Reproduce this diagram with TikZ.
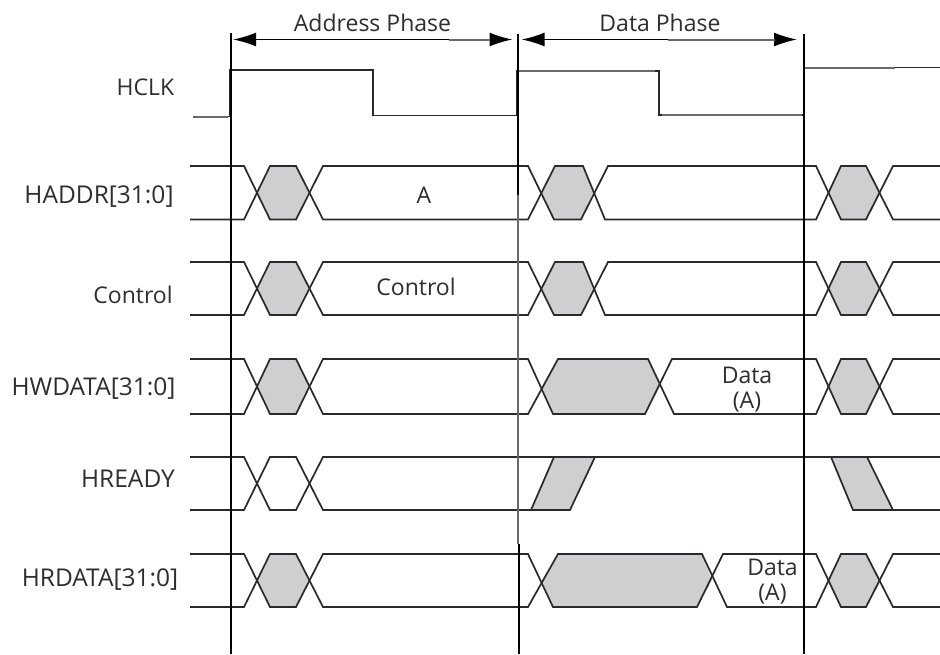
\documentclass[tikz,border=0pt]{standalone}
\usepackage{fontspec}
\setmainfont{Open Sans}
\usetikzlibrary{arrows.meta}
\definecolor{wire}{HTML}{2A2A2A}
\definecolor{hatch}{HTML}{CDCFD1}
\definecolor{ink}{HTML}{2E2E2E}
\definecolor{fadeline}{HTML}{6A6A6A}
\tikzset{
  wave/.style={draw=wire,line width=1.7pt,line join=miter},
  faded/.style={draw=fadeline,line width=2pt},
  shade/.style={fill=hatch,draw=none},
  phase/.style={draw=black,line width=1.8pt},
  span/.style={draw=black,line width=1.8pt,{Latex[length=23pt,width=14pt]}-{Latex[length=23pt,width=14pt]}},
  lab/.style={font=\fontsize{23pt}{25pt}\selectfont,text=ink,inner sep=0pt,align=center},
  basel/.style={lab,anchor=base},
  longlab/.style={basel,font=\fontsize{24.5pt}{25pt}\selectfont},
}
% T B | middle: tl bl tr br at ab cr
\newcommand{\busrow}[9]{%
  \path[shade] (257,{(#1+#2)/2})--(270,#1)--(296,#1)--(309,{(#1+#2)/2})--(296,#2)--(270,#2)--cycle;
  \path[shade] (829,{(#1+#2)/2})--(841,#1)--(866,#1)--(881,{(#1+#2)/2})--(866,#2)--(841,#2)--cycle;
  \path[shade] (542,{(#1+#2)/2})--(#3,#1)--(#5,#1)--(#9,{(#1+#2)/2})--(#6,#2)--(#4,#2)--cycle;
  \draw[wave] (190,#1)--(244,#1)--(270,#2)--(296,#2)--(323,#1)--(528,#1)--(#4,#2)--(#6,#2)--(#7,#1)--(816,#1)--(841,#2)--(866,#2)--(893,#1)--(940,#1);
  \draw[wave] (190,#2)--(244,#2)--(270,#1)--(296,#1)--(323,#2)--(528,#2)--(#3,#1)--(#5,#1)--(#8,#2)--(816,#2)--(841,#1)--(866,#1)--(893,#2)--(940,#2);
}
\begin{document}
\begin{tikzpicture}[x=1pt,y=-1pt]
\useasboundingbox (0,0) rectangle (940,654);
\fill[white] (0,0) rectangle (940,654);

\busrow{166}{219.5}{555}{554}{583}{581}{608}{605}{594}
\busrow{262}{315}{555}{554}{583}{581}{608}{605}{594}
\busrow{359}{414}{558}{553}{648}{645}{672}{674}{660}
\busrow{554}{607}{558}{553}{702}{697}{723}{727}{712}

% HREADY
\path[shade] (531,510)--(554,457)--(595,457)--(570,510)--cycle;
\path[shade] (831,457)--(867,457)--(893,510)--(853,510)--cycle;
\draw[wave] (190,457)--(244,457)--(270,510)--(296,510)--(323,457)--(940,457);
\draw[wave] (190,510)--(244,510)--(270,457)--(296,457)--(323,510)--(570,510)--(595,457);
\draw[wave] (531,510)--(554,457);
\draw[wave] (831,457)--(853,510)--(940,510);
\draw[wave] (867,457)--(893,510);

% HCLK
\draw[wave] (193,116.5)--(230,116.5)--(230,70)--(373,70)--(373,115.5)--(517,115.5)--(517,71)--(659,71)--(659,115)--(803,115);
\draw[faded] (193,116.5)--(228,116.5);
\draw[faded] (519,71)--(655,71);
\draw[faded] (662,115)--(802,115);
\draw[faded] (805,67.5)--(895,67.5);
\draw[wave] (895,67.5)--(940,67.5);

% phase boundaries
\coordinate (p1t) at (231,33); \coordinate (p1b) at (231,654);
\coordinate (p2t) at (517.7,34); \coordinate (p2u) at (517.7,195);
\coordinate (p2v) at (518.3,195); \coordinate (p2m) at (518.3,544);
\coordinate (p2n) at (519.3,544); \coordinate (p2b) at (519.3,654);
\coordinate (p3t) at (804,34); \coordinate (p3b) at (804,654);
\draw[phase] (p1t)--(p1b);
\draw[phase] (p2t)--(p2u);
\draw[faded] (p2v)--(p2m);
\draw[phase] (p2n)--(p2b);
\draw[phase] (p3t)--(p3b);

% spans
\coordinate (a1) at (233,39.5); \coordinate (a2) at (512.5,39.5);
\coordinate (b1) at (521.5,39.5); \coordinate (b2) at (797,39.5);
\draw[span] (a1)--(a2);
\draw[span] (b1)--(b2);
\draw[faded] (449,39.5)--(490,39.5);
\draw[faded] (668,39.5)--(775,39.5);

\node[basel] (tA) at (372.5,31) {Address Phase};
\node[basel] (tD) at (660,31) {Data Phase};
\node[basel] (lH) at (145.5,95) {HCLK};
\node[longlab] (l1) at (99,203) {HADDR[31:0]};
\node[basel] (l2) at (133,303) {Control};
\node[longlab] (l3) at (93.5,395) {HWDATA[31:0]};
\node[longlab] (l4) at (128,487) {HREADY};
\node[longlab] (l5) at (100,586) {HRDATA[31:0]};
\node[basel] (vA) at (424,203) {A};
\node[basel] (vC) at (416,295) {Control};
\node[lab] (vD) at (747,390) {Data\\(A)};
\node[lab] (vE) at (772.5,582) {Data\\(A)};
\end{tikzpicture}
\end{document}
